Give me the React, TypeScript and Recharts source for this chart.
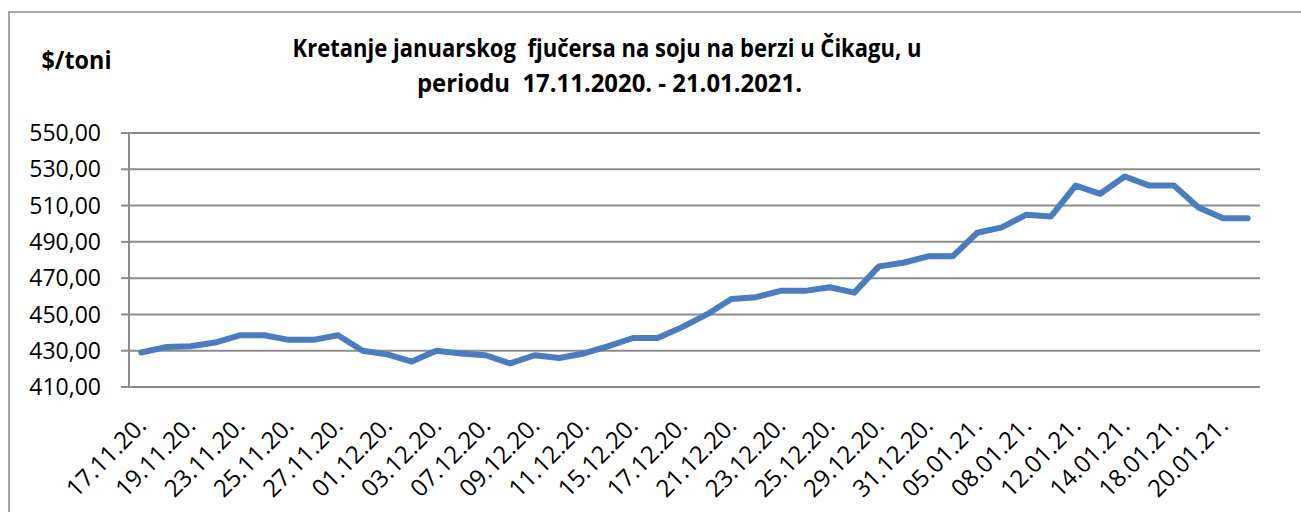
import { LineChart, Line, XAxis, YAxis, CartesianGrid } from "recharts";

// trading days shown on the category axis
const dates = [
  "17.11.20.", "18.11.20.", "19.11.20.", "20.11.20.", "23.11.20.", "24.11.20.",
  "25.11.20.", "26.11.20.", "27.11.20.", "30.11.20.", "01.12.20.", "02.12.20.",
  "03.12.20.", "04.12.20.", "07.12.20.", "08.12.20.", "09.12.20.", "10.12.20.",
  "11.12.20.", "14.12.20.", "15.12.20.", "16.12.20.", "17.12.20.", "18.12.20.",
  "21.12.20.", "22.12.20.", "23.12.20.", "24.12.20.", "25.12.20.", "28.12.20.",
  "29.12.20.", "30.12.20.", "31.12.20.", "04.01.21.", "05.01.21.", "06.01.21.",
  "08.01.21.", "11.01.21.", "12.01.21.", "13.01.21.", "14.01.21.", "15.01.21.",
  "18.01.21.", "19.01.21.", "20.01.21.", "21.01.21.",
];

// $/toni
const prices = [
  429.0, 432.0, 432.5, 434.5, 438.5, 438.5,
  436.0, 436.0, 438.5, 430.0, 428.0, 424.0,
  430.0, 428.5, 427.5, 423.0, 427.5, 426.0,
  428.5, 432.5, 437.0, 437.0, 443.0, 450.0,
  458.5, 459.5, 463.0, 463.0, 465.0, 462.0,
  476.5, 478.5, 482.0, 482.0, 495.0, 498.0,
  505.0, 504.0, 521.0, 516.5, 526.0, 521.0,
  521.0, 509.0, 503.0, 503.0,
];

const yTicks = [410, 430, 450, 470, 490, 510, 530, 550];

const titleLines = [
  "Kretanje januarskog  fjučersa na soju na berzi u Čikagu, u",
  "periodu  17.11.2020. - 21.01.2021.",
];
const unitLabel = "$/toni";

const data = dates.map((d, i) => ({ date: d, price: prices[i] }));

const GRID = "#8c8c8c";
const FONT = "'Open Sans', sans-serif";

const fmt = (v: number) => v.toFixed(2).replace(".", ",");

function DateTick(props: any) {
  const { x, y, payload } = props;
  return (
    <text
      x={0}
      y={0}
      transform={`translate(${x + 6.5},${y + 40}) rotate(-45)`}
      textAnchor="end"
      fontFamily={FONT}
      fontSize={24}
      fill="#000"
    >
      {payload.value}
    </text>
  );
}

export default function App() {
  return (
    <div
      style={{
        position: "absolute",
        left: 0,
        top: 0,
        width: 1301,
        height: 512,
        background: "#fff",
        overflow: "hidden",
      }}
    >
      <div
        style={{
          position: "absolute",
          left: 8,
          top: 11,
          width: 1301,
          height: 512,
          borderLeft: "2px solid #a6a6a6",
          borderTop: "2px solid #a6a6a6",
        }}
      />
      <div style={{ position: "absolute", left: 0, top: 0 }}>
        <LineChart
          width={1301}
          height={512}
          data={data}
          margin={{ top: 133, right: 41, bottom: 0, left: 0 }}
        >
          <CartesianGrid vertical={false} stroke={GRID} strokeWidth={2} />
          <XAxis
            dataKey="date"
            interval={1}
            padding={{ left: 12.3, right: 12.3 }}
            height={125}
            tickLine={false}
            tickSize={0}
            tickMargin={0}
            axisLine={{ stroke: GRID, strokeWidth: 2 }}
            tick={<DateTick />}
          />
          <YAxis
            type="number"
            domain={[410, 550]}
            ticks={yTicks}
            interval={0}
            width={129}
            tickSize={8}
            tickMargin={20}
            tickFormatter={fmt}
            axisLine={{ stroke: GRID, strokeWidth: 2 }}
            tickLine={{ stroke: GRID, strokeWidth: 2 }}
            tick={{ fontFamily: FONT, fontSize: 23, fill: "#000" }}
          />
          <Line
            type="linear"
            dataKey="price"
            stroke="#4a7cc0"
            strokeWidth={6}
            strokeLinecap="round"
            strokeLinejoin="round"
            dot={false}
            activeDot={false}
            isAnimationActive={false}
          />
        </LineChart>
      </div>
      <svg
        width={1301}
        height={512}
        style={{ position: "absolute", left: 0, top: 0, pointerEvents: "none" }}
      >
        <g fontFamily={FONT} fontWeight={700} fontSize={25} fill="#000">
          <text x={41.5} y={68.5} textLength={70} lengthAdjust="spacingAndGlyphs">
            {unitLabel}
          </text>
          <text
            x={607}
            y={57}
            textAnchor="middle"
            textLength={629}
            lengthAdjust="spacingAndGlyphs"
            style={{ whiteSpace: "pre" }}
          >
            {titleLines[0]}
          </text>
          <text
            x={609.5}
            y={92}
            textAnchor="middle"
            textLength={385}
            lengthAdjust="spacingAndGlyphs"
            style={{ whiteSpace: "pre" }}
          >
            {titleLines[1]}
          </text>
        </g>
      </svg>
    </div>
  );
}
